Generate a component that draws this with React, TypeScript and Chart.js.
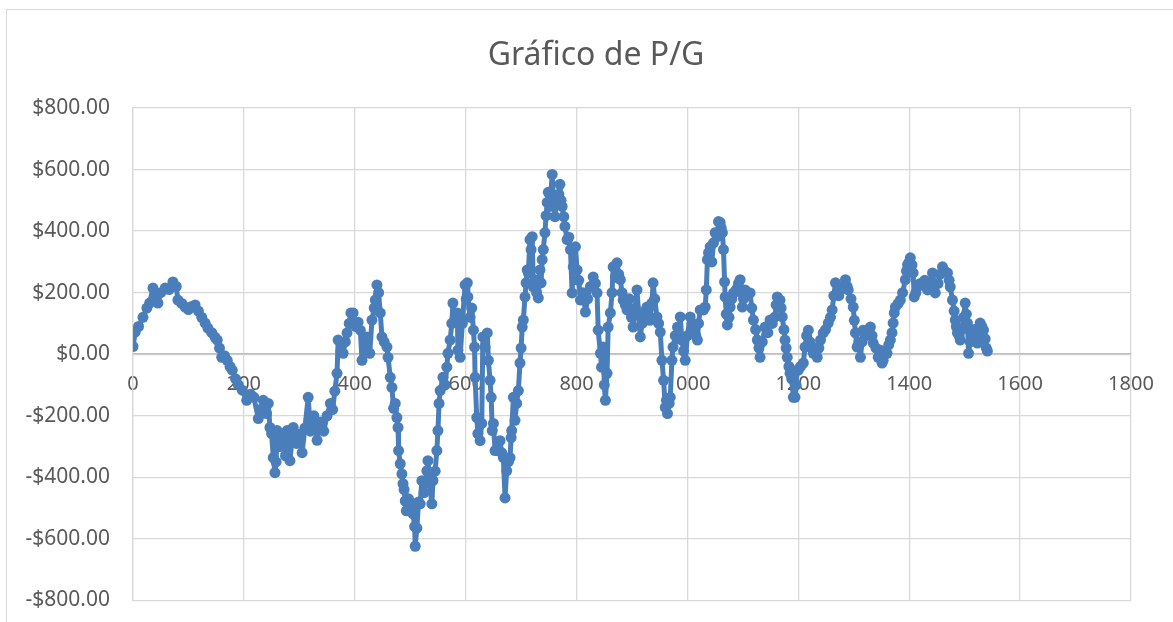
import React, { useEffect, useRef } from "react";
import { Chart, registerables } from "chart.js";

Chart.register(...registerables);

const chartTitle = "Gráfico de P/G";

const xValues: number[] = [
  0, 4, 10, 18, 25, 30, 36, 40, 45, 50, 58, 65, 72, 78, 81, 88, 94, 100, 106, 112, 118, 124, 130, 135, 142, 148, 152, 156, 160, 165, 170, 175, 179, 185, 190, 197,
  205, 212, 218, 226, 230, 235, 241, 244, 247, 250, 253, 256, 258, 260, 265, 270, 275, 278, 283, 289, 295, 300, 305, 310, 316, 320, 326, 332, 338, 344, 350, 356, 360, 364, 368,
  370, 375, 379, 383, 386, 390, 393, 397, 402, 406, 410, 413, 418, 422, 427, 431, 435, 437, 440, 443, 446, 449, 453, 458, 460, 464, 467, 470, 473, 476, 478, 479, 482, 485, 487, 489,
  491, 493, 497, 500, 503, 505, 508, 509, 512, 515, 518, 521, 525, 530, 532, 535, 539, 541, 545, 548, 550, 552, 554, 559, 563, 566, 568, 572, 575, 577, 580, 585, 586, 590, 594, 599,
  601, 603, 604, 608, 611, 614, 616, 617, 620, 622, 626, 629, 631, 635, 639, 641, 644, 646, 648, 650, 653, 656, 662, 665, 668, 671, 674, 677, 680, 682, 683, 686, 689, 692, 695, 698,
  700, 702, 704, 707, 709, 711, 713, 716, 718, 720, 722, 725, 728, 731, 734, 736, 738, 740, 743, 745, 747, 749, 752, 756, 758, 761, 765, 768, 770, 772, 774, 777, 779, 783, 786, 789,
  792, 794, 798, 801, 804, 807, 812, 816, 820, 825, 830, 834, 837, 839, 843, 845, 848, 850, 852, 855, 857, 861, 864, 866, 870, 873, 876, 879, 882, 884, 888, 891, 895, 899,
  902, 906, 909, 912, 915, 918, 920, 924, 927, 932, 936, 938, 941, 945, 948, 951, 954, 957, 960, 962, 964, 967, 969, 972, 974, 978, 982, 985, 987, 990, 993, 996,
  1000, 1005, 1008, 1011, 1015, 1018, 1020, 1023, 1029, 1032, 1034, 1036, 1038, 1041, 1044, 1047, 1050, 1054, 1056, 1059, 1061, 1063, 1065, 1067, 1068, 1070, 1072, 1075, 1077, 1080,
  1083, 1088, 1092, 1095, 1097, 1099, 1101, 1104, 1108, 1113, 1116, 1119, 1123, 1126, 1129, 1131, 1135, 1140, 1145, 1149, 1153, 1158, 1160, 1162, 1165, 1167, 1169, 1171, 1174, 1176,
  1178, 1180, 1183, 1185, 1188, 1191, 1194, 1196, 1198, 1200, 1204, 1209, 1212, 1215, 1218, 1221, 1224, 1227, 1230, 1234, 1237, 1240, 1245, 1249, 1254, 1258, 1261, 1264, 1267, 1270,
  1273, 1276, 1280, 1285, 1288, 1290, 1295, 1299, 1301, 1303, 1306, 1309, 1312, 1315, 1317, 1322, 1326, 1330, 1333, 1335, 1340, 1344, 1348, 1351, 1353, 1356, 1360, 1363, 1366, 1369,
  1371, 1373, 1375, 1380, 1384, 1388, 1393, 1395, 1397, 1400, 1402, 1405, 1407, 1409, 1412, 1415, 1420, 1424, 1428, 1433, 1437, 1442, 1445, 1447, 1452, 1456, 1460, 1464, 1469, 1472,
  1474, 1478, 1481, 1483, 1485, 1487, 1490, 1492, 1495, 1498, 1501, 1503, 1505, 1507, 1510, 1514, 1518, 1521, 1523, 1526, 1528, 1531, 1534, 1537, 1539, 1541,
];

const pnlValues: number[] = [
  25, 72, 90, 120, 150, 166, 215, 190, 166, 200, 215, 210, 235, 220, 176, 165, 153, 145, 155, 160, 140, 120, 101, 85, 70, 55, 46, 20, -10, -5, -20, -40, -52, -80, -100, -117,
  -150, -130, -140, -209, -180, -150, -193, -160, -238, -258, -336, -385, -350, -248, -300, -270, -330, -248, -346, -238, -290, -260, -320, -240, -140, -250, -200, -280, -220, -250, -200, -160, -180, -120, -62,
  46, 10, 3, 40, 69, 100, 134, 134, 90, 104, 78, -20, 30, 56, 3, 111, 150, 176, 225, 200, 134, 56, 40, 23, -10, -75, -108, -176, -160, -206, -238, -313, -356, -389, -421, -440,
  -477, -509, -470, -486, -500, -519, -560, -624, -565, -480, -486, -411, -450, -379, -346, -420, -486, -411, -380, -313, -248, -160, -118, -75, -100, -42, 3, 46, 100, 166, 110, 134, 13, -10, 100, 225,
  180, 232, 186, 120, 150, 78, 23, -75, -206, -258, -281, -225, 56, 23, 69, -20, -85, -140, -248, -225, -313, -313, -281, -320, -336, -467, -379, -350, -336, -271, -248, -140, -215, -160, -118, -29,
  20, 88, 111, 186, 232, 274, 264, 372, 340, 382, 219, 242, 200, 183, 274, 232, 307, 340, 395, 450, 493, 526, 480, 584, 513, 447, 503, 520, 552, 500, 480, 447, 415, 372, 380, 340,
  199, 284, 349, 274, 240, 176, 200, 137, 180, 220, 251, 230, 199, 78, 3, -42, 23, -100, -150, -62, 88, 134, 200, 284, 250, 297, 260, 242, 200, 176, 160, 144, 180, 120,
  88, 150, 209, 130, 56, 100, 121, 140, 153, 110, 166, 232, 180, 121, 100, 72, -20, -85, -173, -150, -193, -160, -140, -20, 23, 60, 88, 50, 121, 46, 10, -20,
  60, 121, 100, 78, 60, 46, 100, 144, 144, 153, 209, 307, 330, 349, 300, 362, 395, 382, 431, 428, 410, 395, 340, 235, 186, 130, 95, 120, 153, 180,
  199, 210, 230, 242, 200, 153, 180, 209, 190, 199, 150, 111, 80, 46, 20, -10, 40, 88, 70, 111, 100, 121, 160, 186, 170, 176, 150, 121, 80, 46,
  20, -10, -40, -62, -80, -140, -140, -100, -52, -52, -40, -29, 23, 60, 78, 40, 20, 3, 20, -10, 20, 46, 69, 80, 101, 120, 144, 190, 232, 200,
  190, 209, 220, 242, 220, 209, 180, 153, 110, 69, 23, 40, -10, 40, 78, 60, 80, 88, 60, 36, 20, -10, 13, -29, -20, 0, 3, 30, 46, 70,
  101, 134, 153, 165, 176, 200, 242, 270, 291, 300, 313, 290, 264, 186, 200, 219, 230, 225, 240, 209, 230, 264, 230, 199, 230, 260, 284, 270, 264, 240,
  219, 176, 140, 111, 90, 69, 60, 46, 80, 120, 166, 130, 101, 3, 40, 56, 80, 50, 36, 70, 101, 90, 78, 50, 20, 10,
];

const xTicks: number[] = [0, 200, 400, 600, 800, 1000, 1200, 1400, 1600, 1800];
const yTicks: number[] = [-800, -600, -400, -200, 0, 200, 400, 600, 800];

const fmtMoney = (v: number) => {
  const abs = Math.abs(v).toFixed(2);
  return (v < 0 ? "-$" : "$") + abs;
};

const titlePlugin = {
  id: "excelTitle",
  afterDraw(chart: any) {
    const ctx = chart.ctx;
    ctx.save();
    ctx.font = "32px 'Noto Sans'";
    ctx.fillStyle = "#595959";
    ctx.textAlign = "center";
    ctx.textBaseline = "middle";
    ctx.fillText(chartTitle, 596, 56);
    ctx.restore();
  },
};

const CANVAS_W = 1173;
const CANVAS_H = 636;

export default function App() {
  const canvasRef = useRef<HTMLCanvasElement | null>(null);

  useEffect(() => {
    if (!canvasRef.current) return;
    const points = xValues.map((x, i) => ({ x, y: pnlValues[i] }));
    const chart = new Chart(canvasRef.current, {
      type: "scatter",
      data: {
        datasets: [
          {
            label: "P/G",
            data: points,
            showLine: true,
            borderColor: "#4a7ebb",
            backgroundColor: "#4a7ebb",
            borderWidth: 5,
            borderJoinStyle: "round",
            borderCapStyle: "round",
            pointRadius: 5.5,
            pointBorderWidth: 0,
            pointBackgroundColor: "#4a7ebb",
            tension: 0,
          },
        ],
      },
      options: {
        responsive: false,
        animation: false,
        layout: { padding: { top: 108, bottom: 9, left: 0, right: 42 } },
        plugins: {
          legend: { display: false },
          title: { display: false },
          tooltip: { enabled: false },
        },
        scales: {
          x: {
            type: "linear",
            position: { y: 0 } as any,
            min: 0,
            max: 1800,
            afterBuildTicks: (scale: any) => {
              scale.ticks = xTicks.map((v) => ({ value: v }));
            },
            ticks: {
              color: "#595959",
              font: { family: "'Noto Sans'", size: 20 },
              padding: 18,
              maxRotation: 0,
              autoSkip: false,
              callback: (v: any) => String(v),
            },
            grid: { color: "#d9d9d9", lineWidth: 1.3, drawTicks: false },
            border: { display: true, color: "#bfbfbf", width: 1.5 },
          },
          y: {
            type: "linear",
            min: -800,
            max: 800,
            afterBuildTicks: (scale: any) => {
              scale.ticks = yTicks.map((v) => ({ value: v }));
            },
            afterFit: (scale: any) => {
              scale.width = 133;
            },
            ticks: {
              color: "#595959",
              font: { family: "'Noto Sans'", size: 21 },
              padding: 23,
              callback: (v: any) => fmtMoney(Number(v)),
            },
            grid: { color: "#d9d9d9", lineWidth: 1.3, drawTicks: false },
            border: { display: true, color: "#d9d9d9", width: 1.3 },
          },
        },
      },
      plugins: [titlePlugin],
    });
    return () => chart.destroy();
  }, []);

  return (
    <div
      style={{
        position: "fixed",
        left: 0,
        top: 0,
        width: 1173,
        height: 622,
        overflow: "hidden",
        background: "#ffffff",
      }}
    >
      <div
        style={{
          position: "absolute",
          left: 6,
          top: 9,
          width: 1200,
          height: 700,
          border: "1.5px solid #d9d9d9",
          boxSizing: "border-box",
        }}
      />
      <canvas
        ref={canvasRef}
        width={CANVAS_W}
        height={CANVAS_H}
        style={{ position: "absolute", left: 0, top: 0, width: CANVAS_W, height: CANVAS_H }}
      />
    </div>
  );
}
